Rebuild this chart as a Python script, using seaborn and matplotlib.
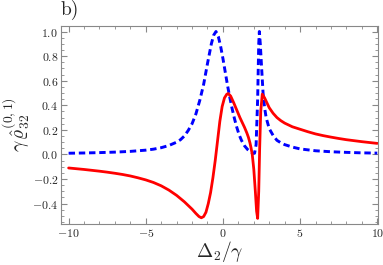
import matplotlib
matplotlib.use("Agg")
import matplotlib.pyplot as plt
from matplotlib.ticker import MultipleLocator
import seaborn as sns

# curva azul (tracejada)
blue_x = [-10, -9, -8, -7, -6, -5, -4.5, -4, -3.5, -3, -2.75, -2.5, -2.25, -2, -1.75,
          -1.5, -1.25, -1.0, -0.75, -0.6, -0.45, -0.3, -0.15, 0.0, 0.15, 0.3, 0.45,
          0.6, 0.75, 0.9, 1.05, 1.2, 1.4, 1.6, 1.8, 1.95, 2.05, 2.15, 2.25, 2.32, 2.36,
          2.42, 2.5, 2.6, 2.7, 2.8, 3.0, 3.25, 3.5, 3.75, 4, 4.5, 5, 6, 7, 8, 9, 10]
blue_y = [0.010, 0.012, 0.015, 0.019, 0.025, 0.035, 0.043, 0.055, 0.073, 0.10, 0.12,
          0.15, 0.195, 0.25, 0.33, 0.44, 0.57, 0.74, 0.90, 0.97, 1.00, 0.96, 0.88,
          0.78, 0.67, 0.56, 0.46, 0.37, 0.29, 0.22, 0.16, 0.115, 0.07, 0.04, 0.02,
          0.008, 0.01, 0.08, 0.45, 0.90, 1.00, 0.90, 0.72, 0.50, 0.38, 0.30, 0.21,
          0.155, 0.115, 0.095, 0.08, 0.06, 0.045, 0.03, 0.022, 0.017, 0.013, 0.011]

# curva vermelha (continua)
red_x = [-10, -9.5, -9, -8.5, -8, -7.5, -7, -6.5, -6, -5.5, -5, -4.5, -4, -3.5, -3,
         -2.5, -2.25, -2, -1.75, -1.55, -1.4, -1.25, -1.1, -0.95, -0.8, -0.65, -0.5,
         -0.35, -0.2, -0.05, 0.1, 0.25, 0.35, 0.5, 0.7, 0.9, 1.1, 1.25, 1.4, 1.55,
         1.65, 1.75, 1.82, 1.9, 2.0, 2.1, 2.18, 2.25, 2.32, 2.38, 2.45, 2.55, 2.7,
         2.85, 3.0, 3.25, 3.5, 3.75, 4.0, 4.5, 5.0, 5.5, 6, 6.5, 7, 7.5, 8, 8.5, 9,
         9.5, 10]
red_y = [-0.110, -0.116, -0.122, -0.129, -0.136, -0.144, -0.153, -0.163, -0.175,
         -0.19, -0.207, -0.228, -0.255, -0.29, -0.333, -0.385, -0.415, -0.445, -0.48,
         -0.505, -0.515, -0.505, -0.47, -0.40, -0.31, -0.19, -0.05, 0.11, 0.27, 0.39,
         0.46, 0.49, 0.495, 0.475, 0.42, 0.36, 0.30, 0.26, 0.22, 0.175, 0.14, 0.095,
         0.055, 0.0, -0.12, -0.30, -0.46, -0.52, -0.30, 0.05, 0.35, 0.49, 0.46, 0.42,
         0.38, 0.335, 0.30, 0.275, 0.255, 0.225, 0.205, 0.185, 0.167, 0.153, 0.141,
         0.13, 0.12, 0.112, 0.104, 0.097, 0.09]

sns.set_style("ticks")
plt.rcParams['font.family'] = 'cmr10'
plt.rcParams['mathtext.fontset'] = 'cm'
plt.rcParams['axes.formatter.use_mathtext'] = True

fig = plt.figure(figsize=(3.83, 2.65), dpi=100)
ax = fig.add_axes([0.159, 0.155, 0.828, 0.747])

sns.lineplot(x=blue_x, y=blue_y, color='#0000ff', lw=2.1, ax=ax)
ax.lines[-1].set_dashes((2.2, 1.3))
sns.lineplot(x=red_x, y=red_y, color='#ff0000', lw=2.0, ax=ax)

ax.set_xlim(-10.5, 10.05)
ax.set_ylim(-0.565, 1.045)
ax.xaxis.set_major_locator(MultipleLocator(5))
ax.xaxis.set_minor_locator(MultipleLocator(1))
ax.yaxis.set_major_locator(MultipleLocator(0.2))
ax.yaxis.set_minor_locator(MultipleLocator(0.05))
ax.tick_params(which='both', direction='in', top=True, right=True, color='#888888')
ax.tick_params(which='major', length=4, width=0.8, labelsize=8.5, pad=2)
ax.tick_params(which='minor', length=2, width=0.6)
for s in ax.spines.values():
    s.set_color('#888888')
    s.set_linewidth(0.8)

ax.set_xlabel(r'$\Delta_2/\gamma$', fontsize=14, labelpad=0)
ax.set_ylabel(r'$\gamma\,\hat{\varrho}_{32}^{(0,1)}$', fontsize=14, labelpad=0)
ax.set_title('b)', loc='left', fontsize=14, pad=8)

fig.savefig('out.png', dpi=100)
